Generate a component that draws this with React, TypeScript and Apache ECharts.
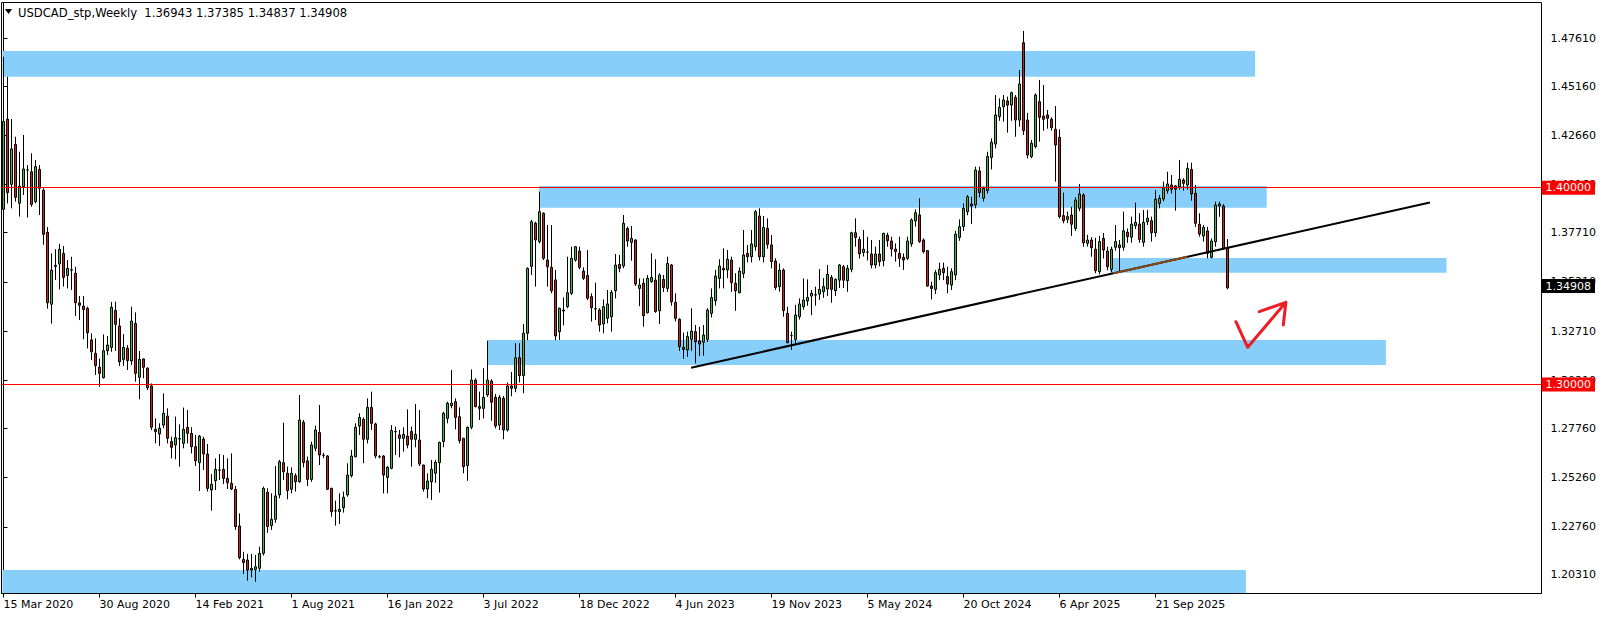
import React, { useEffect, useRef } from 'react';
import * as echarts from 'echarts';

const FONT = 'DejaVu Sans';

const titleText = 'USDCAD_stp,Weekly  1.36943 1.37385 1.34837 1.34908';

const tickLabels = [
  '15 Mar 2020', '30 Aug 2020', '14 Feb 2021', '1 Aug 2021', '16 Jan 2022', '3 Jul 2022',
  '18 Dec 2022', '4 Jun 2023', '19 Nov 2023', '5 May 2024', '20 Oct 2024', '6 Apr 2025', '21 Sep 2025',
];
const weeksPerTick = 24;

const yTickValues = [1.2031, 1.2276, 1.2526, 1.2776, 1.3021, 1.3271, 1.3521, 1.3771, 1.4016, 1.4266, 1.4516, 1.4761];

const opens = [
  1.3890,1.4349,1.4017,1.4220,1.3921,1.4005,1.4090,1.4081,1.3929,1.4093,
  1.3987,1.3773,1.3407,1.3599,1.3612,1.3666,1.3554,1.3581,1.3565,1.3414,
  1.3398,1.3387,1.3226,1.3158,1.3087,1.3034,1.3171,1.3188,1.3376,1.3297,
  1.3127,1.3183,1.3119,1.3310,1.3036,1.3129,1.3082,1.2992,1.2772,1.2748,
  1.2793,1.2839,1.2709,1.2692,1.2724,1.2700,1.2781,1.2751,1.2683,1.2602,
  1.2722,1.2646,1.2463,1.2510,1.2564,1.2568,1.2522,1.2497,1.2466,1.2280,
  1.2110,1.2107,1.2056,1.2059,1.2065,1.2141,1.2451,1.2282,1.2314,1.2438,
  1.2602,1.2548,1.2467,1.2536,1.2505,1.2807,1.2611,1.2517,1.2675,1.2755,
  1.2640,1.2636,1.2471,1.2356,1.2353,1.2373,1.2438,1.2536,1.2632,1.2788,
  1.2822,1.2721,1.2883,1.2799,1.2632,1.2636,1.2527,1.2573,1.2760,1.2743,
  1.2726,1.2737,1.2760,1.2721,1.2717,1.2590,1.2468,1.2505,1.2548,1.2602,
  1.2709,1.2827,1.2892,1.2912,1.2836,1.2726,1.2587,1.2782,1.3022,1.2887,
  1.2878,1.2946,1.3017,1.2934,1.2793,1.2929,1.2768,1.2992,1.2980,1.3135,
  1.3045,1.3260,1.3600,1.3819,1.3726,1.3870,1.3632,1.3595,1.3531,1.3268,
  1.3378,1.3395,1.3463,1.3632,1.3678,1.3576,1.3554,1.3446,1.3385,1.3378,
  1.3307,1.3336,1.3344,1.3476,1.3610,1.3602,1.3793,1.3722,1.3734,1.3488,
  1.3514,1.3364,1.3522,1.3530,1.3374,1.3534,1.3488,1.3607,1.3417,1.3331,
  1.3188,1.3175,1.3229,1.3268,1.3221,1.3214,1.3229,1.3361,1.3425,1.3539,
  1.3590,1.3582,1.3632,1.3514,1.3466,1.3564,1.3666,1.3649,1.3700,1.3856,
  1.3649,1.3793,1.3709,1.3627,1.3497,1.3581,1.3361,1.3248,1.3229,1.3344,
  1.3395,1.3424,1.3449,1.3454,1.3459,1.3471,1.3485,1.3544,1.3476,1.3530,
  1.3598,1.3527,1.3585,1.3771,1.3737,1.3670,1.3672,1.3663,1.3607,1.3663,
  1.3629,1.3759,1.3729,1.3688,1.3666,1.3646,1.3641,1.3714,1.3831,1.3861,
  1.3734,1.3680,1.3500,1.3483,1.3556,1.3590,1.3548,1.3505,1.3556,1.3747,
  1.3802,1.3878,1.3917,1.3912,1.4085,1.3946,1.3985,1.4154,1.4222,1.4361,
  1.4412,1.4441,1.4420,1.4459,1.4344,1.4737,1.4344,1.4158,1.4209,1.4437,
  1.4364,1.4370,1.4348,1.4297,1.4256,1.3858,1.3839,1.3861,1.3793,1.3895,
  1.3963,1.3717,1.3734,1.3687,1.3573,1.3742,1.3678,1.3585,1.3697,1.3709,
  1.3697,1.3773,1.3748,1.3807,1.3815,1.3722,1.3827,1.3832,1.3771,1.3920,
  1.3942,1.3985,1.4014,1.4009,1.4005,1.4039,1.4014,1.4093,1.3971,1.3814,
  1.3754,1.3780,1.3646,1.3725,1.3907,1.3907,1.36943,
];

const highs = [
  1.4666,1.4564,1.4349,1.4259,1.4183,1.4268,1.4115,1.4175,1.4141,1.4115,
  1.3997,1.3800,1.3666,1.3687,1.3714,1.3703,1.3632,1.3649,1.3598,1.3449,
  1.3449,1.3395,1.3259,1.3234,1.3132,1.3254,1.3246,1.3419,1.3420,1.3336,
  1.3256,1.3200,1.3395,1.3366,1.3170,1.3132,1.3087,1.3005,1.2827,1.2802,
  1.2954,1.2878,1.2734,1.2836,1.2797,1.2882,1.2870,1.2782,1.2743,1.2743,
  1.2734,1.2697,1.2544,1.2624,1.2646,1.2641,1.2624,1.2649,1.2483,1.2344,
  1.2149,1.2138,1.2138,1.2133,1.2175,1.2480,1.2471,1.2446,1.2585,1.2616,
  1.2805,1.2582,1.2578,1.2548,1.2946,1.2819,1.2633,1.2709,1.2790,1.2895,
  1.2652,1.2640,1.2475,1.2409,1.2446,1.2455,1.2599,1.2667,1.2802,1.2853,
  1.2832,1.2929,1.2963,1.2805,1.2641,1.2640,1.2585,1.2793,1.2785,1.2768,
  1.2782,1.2873,1.2785,1.2900,1.2870,1.2592,1.2548,1.2616,1.2616,1.2709,
  1.2861,1.2912,1.3073,1.2929,1.2883,1.2728,1.2785,1.3076,1.3031,1.2963,
  1.3082,1.3222,1.3026,1.2951,1.2946,1.2941,1.3009,1.3063,1.3209,1.3209,
  1.3307,1.3595,1.3836,1.3827,1.3980,1.3875,1.3810,1.3810,1.3582,1.3390,
  1.3442,1.3649,1.3700,1.3703,1.3700,1.3595,1.3683,1.3463,1.3517,1.3387,
  1.3432,1.3480,1.3480,1.3663,1.3658,1.3861,1.3802,1.3805,1.3737,1.3539,
  1.3539,1.3556,1.3666,1.3636,1.3565,1.3556,1.3649,1.3612,1.3463,1.3336,
  1.3263,1.3268,1.3387,1.3302,1.3293,1.3302,1.3387,1.3488,1.3582,1.3636,
  1.3692,1.3683,1.3649,1.3565,1.3595,1.3785,1.3709,1.3785,1.3887,1.3895,
  1.3856,1.3844,1.3759,1.3641,1.3615,1.3590,1.3395,1.3268,1.3404,1.3437,
  1.3539,1.3534,1.3480,1.3497,1.3586,1.3540,1.3607,1.3556,1.3539,1.3612,
  1.3607,1.3607,1.3776,1.3844,1.3751,1.3785,1.3750,1.3734,1.3700,1.3734,
  1.3771,1.3771,1.3751,1.3717,1.3751,1.3666,1.3751,1.3844,1.3890,1.3946,
  1.3742,1.3683,1.3522,1.3581,1.3619,1.3619,1.3598,1.3590,1.3781,1.3839,
  1.3920,1.3963,1.3954,1.4107,1.4107,1.4005,1.4183,1.4251,1.4471,1.4454,
  1.4471,1.4463,1.4488,1.4471,1.4598,1.4797,1.4380,1.4243,1.4480,1.4548,
  1.4522,1.4395,1.4358,1.4415,1.4297,1.3975,1.3878,1.3903,1.3951,1.4019,
  1.3971,1.3760,1.3748,1.3745,1.3755,1.3770,1.3700,1.3700,1.3810,1.3734,
  1.3878,1.3793,1.3853,1.3924,1.3870,1.3887,1.3887,1.3853,1.3988,1.3963,
  1.4031,1.4081,1.4065,1.4014,1.4141,1.4048,1.4127,1.4127,1.4014,1.3870,
  1.3810,1.3801,1.3742,1.3929,1.3929,1.3917,1.37385,
];

const lows = [
  1.3726,1.3920,1.3895,1.3929,1.3853,1.3963,1.3848,1.3903,1.3920,1.3861,
  1.3710,1.3385,1.3309,1.3531,1.3483,1.3497,1.3488,1.3480,1.3348,1.3327,
  1.3229,1.3183,1.3124,1.3048,1.2988,1.3030,1.3149,1.3166,1.3170,1.3093,
  1.3093,1.3073,1.3098,1.3014,1.2924,1.3031,1.2971,1.2768,1.2700,1.2687,
  1.2777,1.2700,1.2624,1.2619,1.2582,1.2675,1.2700,1.2649,1.2585,1.2458,
  1.2565,1.2455,1.2358,1.2463,1.2514,1.2493,1.2468,1.2463,1.2260,1.2110,
  1.2036,1.2002,1.2019,1.1997,1.2048,1.2130,1.2246,1.2260,1.2297,1.2421,
  1.2514,1.2416,1.2446,1.2455,1.2500,1.2578,1.2483,1.2505,1.2660,1.2590,
  1.2625,1.2463,1.2327,1.2282,1.2290,1.2348,1.2429,1.2527,1.2629,1.2743,
  1.2599,1.2700,1.2768,1.2624,1.2624,1.2446,1.2446,1.2568,1.2641,1.2629,
  1.2658,1.2675,1.2582,1.2680,1.2585,1.2455,1.2421,1.2412,1.2500,1.2450,
  1.2680,1.2802,1.2878,1.2771,1.2700,1.2548,1.2510,1.2772,1.2883,1.2819,
  1.2827,1.2937,1.2815,1.2776,1.2768,1.2721,1.2760,1.2940,1.2960,1.3010,
  1.2955,1.3225,1.3556,1.3497,1.3717,1.3632,1.3497,1.3463,1.3224,1.3226,
  1.3300,1.3387,1.3454,1.3624,1.3585,1.3531,1.3429,1.3319,1.3327,1.3268,
  1.3260,1.3310,1.3268,1.3437,1.3570,1.3590,1.3700,1.3629,1.3500,1.3398,
  1.3293,1.3361,1.3517,1.3364,1.3307,1.3470,1.3470,1.3400,1.3320,1.3170,
  1.3130,1.3140,1.3170,1.3107,1.3144,1.3146,1.3215,1.3340,1.3400,1.3488,
  1.3488,1.3540,1.3470,1.3374,1.3463,1.3540,1.3620,1.3620,1.3680,1.3630,
  1.3620,1.3690,1.3590,1.3480,1.3471,1.3344,1.3209,1.3175,1.3200,1.3330,
  1.3380,1.3400,1.3352,1.3400,1.3430,1.3440,1.3450,1.3415,1.3450,1.3490,
  1.3490,1.3471,1.3570,1.3700,1.3640,1.3650,1.3630,1.3590,1.3590,1.3600,
  1.3600,1.3700,1.3650,1.3624,1.3598,1.3582,1.3632,1.3700,1.3802,1.3720,
  1.3666,1.3497,1.3432,1.3459,1.3530,1.3530,1.3463,1.3480,1.3530,1.3730,
  1.3780,1.3860,1.3815,1.3895,1.3950,1.3930,1.3970,1.4093,1.4200,1.4340,
  1.4336,1.4280,1.4340,1.4259,1.4310,1.4268,1.4149,1.4150,1.4200,1.4234,
  1.4290,1.4300,1.4290,1.4031,1.3844,1.3819,1.3820,1.3755,1.3780,1.3880,
  1.3700,1.3700,1.3649,1.3565,1.3560,1.3640,1.3580,1.3570,1.3680,1.3573,
  1.3680,1.3720,1.3720,1.3790,1.3720,1.3700,1.3810,1.3726,1.3750,1.3895,
  1.3930,1.3970,1.3970,1.3883,1.3990,1.3985,1.3990,1.3934,1.3800,1.3751,
  1.3726,1.3641,1.3641,1.3700,1.3852,1.3686,1.34837,
];

const closes = [
  1.4336,1.3975,1.4197,1.3951,1.4008,1.4095,1.4090,1.3915,1.4107,1.3997,
  1.3763,1.3415,1.3581,1.3605,1.3687,1.3544,1.3590,1.3583,1.3415,1.3402,
  1.3381,1.3263,1.3166,1.3095,1.3056,1.3171,1.3200,1.3392,1.3305,1.3115,
  1.3188,1.3121,1.3322,1.3056,1.3127,1.3087,1.2983,1.2782,1.2760,1.2777,
  1.2853,1.2726,1.2680,1.2729,1.2722,1.2771,1.2751,1.2683,1.2612,1.2737,
  1.2646,1.2471,1.2492,1.2568,1.2565,1.2522,1.2500,1.2468,1.2277,1.2119,
  1.2094,1.2056,1.2065,1.2073,1.2141,1.2471,1.2277,1.2314,1.2433,1.2607,
  1.2556,1.2460,1.2548,1.2505,1.2819,1.2602,1.2517,1.2692,1.2768,1.2641,
  1.2639,1.2467,1.2353,1.2358,1.2365,1.2426,1.2539,1.2636,1.2782,1.2832,
  1.2721,1.2883,1.2802,1.2636,1.2631,1.2539,1.2578,1.2765,1.2760,1.2726,
  1.2746,1.2692,1.2721,1.2746,1.2595,1.2468,1.2509,1.2568,1.2604,1.2705,
  1.2853,1.2904,1.2904,1.2832,1.2714,1.2582,1.2782,1.3022,1.2887,1.2878,
  1.2934,1.3022,1.2909,1.2788,1.2934,1.2768,1.2992,1.2980,1.3135,1.3045,
  1.3260,1.3590,1.3827,1.3734,1.3878,1.3641,1.3598,1.3476,1.3246,1.3387,
  1.3373,1.3466,1.3641,1.3700,1.3595,1.3539,1.3438,1.3390,1.3383,1.3302,
  1.3395,1.3409,1.3468,1.3607,1.3590,1.3819,1.3729,1.3742,1.3510,1.3505,
  1.3349,1.3539,1.3544,1.3370,1.3556,1.3493,1.3615,1.3420,1.3336,1.3192,
  1.3178,1.3243,1.3271,1.3217,1.3205,1.3251,1.3378,1.3442,1.3551,1.3602,
  1.3582,1.3636,1.3517,1.3476,1.3576,1.3658,1.3649,1.3714,1.3878,1.3649,
  1.3798,1.3712,1.3624,1.3492,1.3581,1.3375,1.3212,1.3248,1.3353,1.3409,
  1.3429,1.3442,1.3463,1.3456,1.3483,1.3497,1.3560,1.3483,1.3534,1.3607,
  1.3530,1.3590,1.3771,1.3747,1.3663,1.3687,1.3673,1.3607,1.3663,1.3624,
  1.3768,1.3730,1.3688,1.3675,1.3641,1.3632,1.3729,1.3836,1.3873,1.3726,
  1.3675,1.3500,1.3488,1.3568,1.3585,1.3568,1.3510,1.3573,1.3764,1.3802,
  1.3895,1.3954,1.3907,1.4090,1.3975,1.3997,1.4158,1.4231,1.4370,1.4408,
  1.4446,1.4420,1.4483,1.4344,1.4527,1.4290,1.4166,1.4226,1.4471,1.4358,
  1.4348,1.4353,1.4305,1.4217,1.3853,1.3832,1.3853,1.3814,1.3937,1.3968,
  1.3720,1.3734,1.3695,1.3578,1.3726,1.3683,1.3598,1.3687,1.3726,1.3695,
  1.3781,1.3751,1.3815,1.3824,1.3737,1.3824,1.3844,1.3771,1.3941,1.3946,
  1.3997,1.4019,1.3992,1.3992,1.4043,1.4022,1.4098,1.3968,1.3819,1.3764,
  1.3798,1.3666,1.3729,1.3912,1.3917,1.3692,1.34908,
];

// number of weekly slots shown on the time axis (data + empty space on the right)
const totalSlots = 385;

// supply / demand zones: [fromWeek, toWeek, topPrice, bottomPrice]
const zones = [
  [-0.25, 312.9, 1.4695, 1.4564],
  [133.9, 315.8, 1.4009, 1.3898],
  [276.6, 360.75, 1.36425, 1.35678],
  [120.95, 345.6, 1.32256, 1.30985],
  [-0.25, 310.6, 1.20563, 1.19395],
];

const trendLine = [[171.9, 1.30848], [356.6, 1.39242]];
const brownSegment = [[277.4, 1.35643], [295.9, 1.36484]];
const arrowPath = [
  [308.1, 1.33187], [311.05, 1.31885], [320.6, 1.34173],
  [313.95, 1.33695], [320.6, 1.34173], [319.95, 1.33019],
];

const levelLines = [1.4, 1.3];
const lastPrice = 1.34908;

const yMin = 1.19368;
const yMax = 1.49415;

function weekCategories(): string[] {
  const start = Date.UTC(2020, 2, 15);
  const out: string[] = [];
  for (let i = 0; i < totalSlots; i++) {
    const d = new Date(start + i * 7 * 86400000);
    out.push(d.toISOString().slice(0, 10));
  }
  return out;
}

export default function App() {
  const ref = useRef<HTMLDivElement>(null);

  useEffect(() => {
    if (!ref.current) return;
    const chart = echarts.init(ref.current, null, { renderer: 'svg' });
    const categories = weekCategories();
    const candleData = opens.map((o, i) => [o, closes[i], lows[i], highs[i]]);
    const showTick = (index: number) =>
      index % weeksPerTick === 0 && index / weeksPerTick < tickLabels.length;

    const priceLabel = {
      show: true,
      position: 'end',
      distance: 0,
      color: '#fff',
      fontSize: 11,
      fontFamily: FONT,
      padding: [2, 4, 1, 4],
      opacity: 1,
    };

    const option: any = {
      animation: false,
      backgroundColor: '#ffffff',
      textStyle: { fontFamily: FONT },
      grid: {
        left: 1.5,
        right: 62.5,
        top: 2.5,
        bottom: 25.5,
        show: true,
        borderColor: '#000',
        borderWidth: 1,
        backgroundColor: 'transparent',
        containLabel: false,
        outerBoundsMode: 'none',
      },
      graphic: [
        {
          type: 'polygon',
          shape: { points: [[5, 9], [12, 9], [8.5, 14]] },
          style: { fill: '#000' },
          z: 10,
        },
        {
          type: 'text',
          x: 18,
          y: 12.5,
          style: {
            text: titleText,
            fill: '#000',
            fontSize: 11.6,
            fontFamily: FONT,
            verticalAlign: 'middle',
          },
          z: 10,
        },
      ],
      xAxis: [
        {
          type: 'category',
          data: categories,
          boundaryGap: true,
          axisLine: { show: true, lineStyle: { color: '#000', width: 1 } },
          axisTick: {
            show: true,
            alignWithLabel: true,
            interval: (index: number) => showTick(index),
            length: 4,
            lineStyle: { color: '#000' },
          },
          axisLabel: {
            show: true,
            interval: (index: number) => showTick(index),
            formatter: (_v: string, index: number) => tickLabels[index / weeksPerTick] ?? '',
            align: 'left',
            color: '#000',
            fontSize: 11,
            fontFamily: FONT,
            margin: 5,
          },
          splitLine: { show: false },
        },
        {
          type: 'value',
          min: -0.5,
          max: totalSlots - 0.5,
          show: false,
          splitLine: { show: false },
        },
      ],
      yAxis: {
        type: 'value',
        position: 'right',
        min: yMin,
        max: yMax,
        scale: true,
        axisLine: { show: true, lineStyle: { color: '#000' } },
        axisTick: {
          show: true,
          length: 4,
          customValues: yTickValues,
          lineStyle: { color: '#000' },
        },
        axisLabel: {
          show: true,
          customValues: yTickValues,
          formatter: (v: number) => v.toFixed(5),
          color: '#000',
          fontSize: 11,
          fontFamily: FONT,
          margin: 9,
        },
        splitLine: { show: false },
      },
      series: [
        {
          type: 'custom',
          name: 'zones',
          xAxisIndex: 1,
          yAxisIndex: 0,
          z: 1,
          silent: true,
          encode: { x: [0, 1], y: [2, 3] },
          data: zones,
          renderItem: (_params: any, api: any) => {
            const a = api.coord([api.value(0), api.value(2)]);
            const b = api.coord([api.value(1), api.value(3)]);
            return {
              type: 'rect',
              shape: { x: a[0], y: a[1], width: b[0] - a[0], height: b[1] - a[1] },
              style: { fill: '#87cefa' },
            };
          },
        },
        {
          type: 'candlestick',
          name: 'USDCAD',
          xAxisIndex: 0,
          yAxisIndex: 0,
          z: 2,
          silent: true,
          barWidth: 2,
          data: candleData,
          itemStyle: {
            color: '#1fd01f',
            color0: '#e01818',
            borderColor: '#000',
            borderColor0: '#000',
            borderColorDoji: '#000',
            borderWidth: 1,
          },
        },
        {
          type: 'line',
          name: 'trend',
          xAxisIndex: 1,
          yAxisIndex: 0,
          z: 3,
          silent: true,
          symbol: 'none',
          data: trendLine,
          lineStyle: { color: '#000', width: 2 },
          markLine: {
            silent: true,
            symbol: ['none', 'none'],
            animation: false,
            lineStyle: { color: '#ff0000', width: 1, type: 'solid' },
            label: priceLabel,
            data: levelLines.map((v) => ({
              yAxis: v,
              label: { ...priceLabel, formatter: v.toFixed(5), backgroundColor: '#ff0000' },
            })),
          },
        },
        {
          type: 'line',
          name: 'last-price',
          xAxisIndex: 1,
          yAxisIndex: 0,
          z: 4,
          silent: true,
          symbol: 'none',
          data: [],
          lineStyle: { color: 'rgba(0,0,0,0)' },
          markLine: {
            silent: true,
            symbol: ['none', 'none'],
            animation: false,
            lineStyle: { color: 'rgba(0,0,0,0)', width: 1, type: 'solid' },
            label: priceLabel,
            data: [
              {
                yAxis: lastPrice,
                label: { ...priceLabel, formatter: lastPrice.toFixed(5), backgroundColor: '#000' },
              },
            ],
          },
        },
        {
          type: 'line',
          name: 'trend-brown',
          xAxisIndex: 1,
          yAxisIndex: 0,
          z: 3,
          silent: true,
          symbol: 'none',
          data: brownSegment,
          lineStyle: { color: '#8b4513', width: 2 },
        },
        {
          type: 'line',
          name: 'arrow',
          xAxisIndex: 1,
          yAxisIndex: 0,
          z: 3,
          silent: true,
          symbol: 'none',
          data: arrowPath,
          lineStyle: { color: '#ee1c25', width: 3, join: 'round', cap: 'round' },
        },
      ],
    };

    chart.setOption(option);
    return () => chart.dispose();
  }, []);

  return (
    <div
      ref={ref}
      style={{ position: 'absolute', left: 0, top: 0, width: 1604, height: 619, background: '#fff' }}
    />
  );
}
